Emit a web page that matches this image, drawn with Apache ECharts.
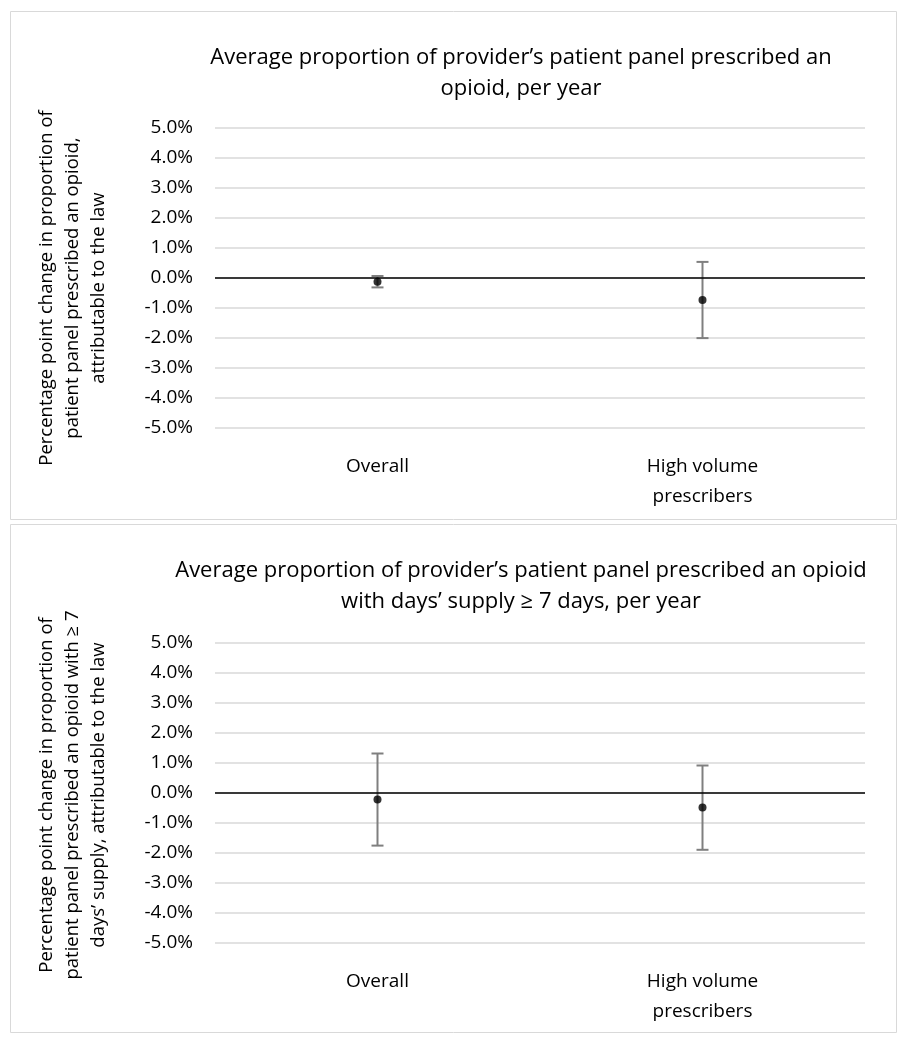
<!doctype html>
<html lang="en">
<head>
<meta charset="utf-8">
<title>Opioid prescribing change</title>
<script src="https://cdn.jsdelivr.net/npm/echarts@6/dist/echarts.min.js"></script>
<style>
  html, body { margin: 0; padding: 0; background: #fff; }
</style>
</head>
<body>
<div id="main" style="width: 908px; height: 1050px;"></div>
<script type="text/javascript">
// categories on the x axis
var categories = ['Overall', 'High volume\nprescribers'];

// panel 1: proportion prescribed an opioid (percentage points)
var panel1Estimate = [-0.14, -0.75];
var panel1Lower = [-0.33, -2.02];
var panel1Upper = [0.05, 0.52];

// panel 2: proportion prescribed an opioid with >= 7 days' supply
var panel2Estimate = [-0.23, -0.50];
var panel2Lower = [-1.77, -1.91];
var panel2Upper = [1.30, 0.90];

// y axis ticks
var yMin = -5, yMax = 5, yStep = 1;

var panelTitles = [
  'Average proportion of provider\u2019s patient panel prescribed an\nopioid, per year',
  'Average proportion of provider\u2019s patient panel prescribed an opioid\nwith days\u2019 supply \u2265 7 days, per year'
];
var axisTitles = [
  'Percentage point change in proportion of\npatient panel prescribed an opioid,\nattributable to the law',
  'Percentage point change in proportion of\npatient panel prescribed an opioid with \u2265 7\ndays\u2019 supply, attributable to the law'
];

var FONT = "'Open Sans', 'Noto Sans', sans-serif";

function errorBars(gridIdx, lower, upper) {
  return {
    type: 'custom',
    xAxisIndex: gridIdx,
    yAxisIndex: gridIdx,
    silent: true,
    z: 3,
    data: lower.map(function (lo, i) { return [i, lo, upper[i]]; }),
    renderItem: function (params, api) {
      var lo = api.coord([api.value(0), api.value(1)]);
      var hi = api.coord([api.value(0), api.value(2)]);
      var cap = 6;
      var style = { stroke: '#7f7f7f', lineWidth: 2 };
      return {
        type: 'group',
        children: [
          { type: 'line', shape: { x1: lo[0], y1: lo[1], x2: hi[0], y2: hi[1] }, style: style },
          { type: 'line', shape: { x1: lo[0] - cap, y1: lo[1], x2: lo[0] + cap, y2: lo[1] }, style: style },
          { type: 'line', shape: { x1: hi[0] - cap, y1: hi[1], x2: hi[0] + cap, y2: hi[1] }, style: style }
        ]
      };
    }
  };
}

function points(gridIdx, est) {
  return {
    type: 'scatter',
    xAxisIndex: gridIdx,
    yAxisIndex: gridIdx,
    symbolSize: 8,
    z: 4,
    itemStyle: { color: '#000' },
    data: est.map(function (v, i) { return [i, v]; }),
    markLine: {
      silent: true,
      symbol: 'none',
      label: { show: false },
      lineStyle: { color: '#000', width: 1.5, type: 'solid' },
      data: [{ yAxis: 0 }]
    }
  };
}

var panelTops = [11, 524];
var panelHeight = 508;
var gridTops = [127.5, 642.5];
var axisTitleCenters = [288, 795];

var borders = panelTops.map(function (t) {
  return {
    type: 'rect',
    shape: { x: 10.5, y: t + 0.5, width: 886, height: panelHeight },
    style: { fill: 'none', stroke: '#d9d9d9', lineWidth: 1 },
    silent: true
  };
});
var yTitles = axisTitles.map(function (txt, i) {
  return {
    type: 'text',
    x: 73,
    y: axisTitleCenters[i],
    rotation: Math.PI / 2,
    silent: true,
    style: {
      text: txt,
      fill: '#000',
      font: '18.5px ' + FONT,
      lineHeight: 26,
      align: 'center',
      verticalAlign: 'middle'
    }
  };
});

var option = {
  animation: false,
  textStyle: { fontFamily: FONT },
  graphic: borders.concat(yTitles),
  title: panelTitles.map(function (txt, i) {
    return {
      text: txt,
      left: 516,
      top: panelTops[i] + 26,
      textAlign: 'center',
      textStyle: { fontFamily: FONT, fontSize: 22, fontWeight: 'normal', color: '#000', lineHeight: 31 }
    };
  }),
  grid: gridTops.map(function (t) {
    return { left: 215, right: 43, top: t, height: 300 };
  }),
  xAxis: [0, 1].map(function (i) {
    return {
      type: 'category',
      gridIndex: i,
      data: categories,
      position: 'bottom',
      axisLine: { show: false },
      axisTick: { show: false },
      axisLabel: { fontFamily: FONT, fontSize: 19, color: '#000', margin: 24, lineHeight: 30 }
    };
  }),
  yAxis: [0, 1].map(function (i) {
    return {
      type: 'value',
      gridIndex: i,
      min: yMin,
      max: yMax,
      interval: yStep,
      axisLine: { show: false },
      axisTick: { show: false },
      splitLine: { lineStyle: { color: '#d9d9d9', width: 1.5 } },
      axisLabel: {
        fontFamily: FONT, fontSize: 19, color: '#000', margin: 22,
        formatter: function (v) { return v.toFixed(1) + '%'; }
      }
    };
  }),
  series: [
    errorBars(0, panel1Lower, panel1Upper),
    points(0, panel1Estimate),
    errorBars(1, panel2Lower, panel2Upper),
    points(1, panel2Estimate)
  ]
};

var myChart = echarts.init(document.getElementById('main'));
myChart.setOption(option);
</script>
</body>
</html>
